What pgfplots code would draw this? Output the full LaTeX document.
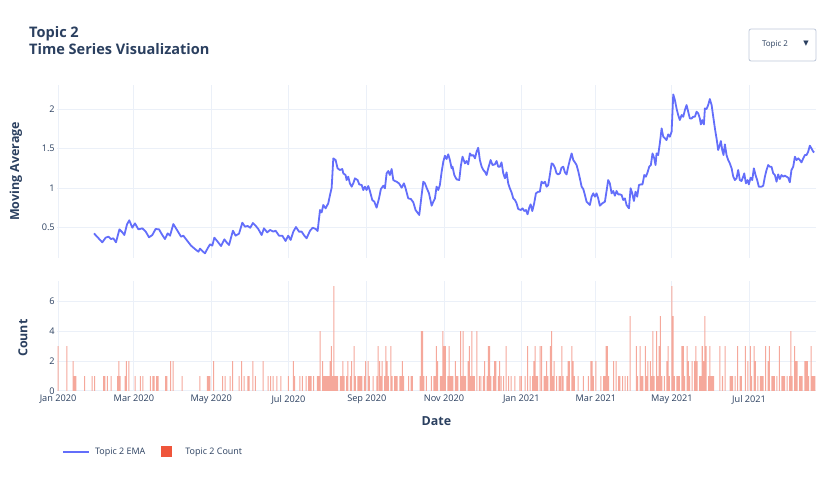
\documentclass[border=0pt]{standalone}
\usepackage{pgfplots}
\pgfplotsset{compat=1.18}
\usepackage{pgfplotstable}
\usepackage{fontspec}
\setmainfont{Open Sans}
\newfontfamily\symfont{DejaVu Sans}
\definecolor{linec}{HTML}{636EFA}
\definecolor{barc}{HTML}{EF553B}
\definecolor{barlight}{HTML}{F5A89B}
\definecolor{textc}{HTML}{2A3F5F}
\definecolor{gridc}{HTML}{EBF0F8}
\definecolor{ddc}{HTML}{BEC8D9}

\pgfplotstableread{
d v
28.4 0.423
35.0 0.309
37.6 0.368
39.8 0.381
41.9 0.351
43.7 0.360
45.8 0.309
48.5 0.474
50.8 0.436
52.4 0.402
54.5 0.538
56.3 0.589
58.7 0.495
60.8 0.550
63.5 0.474
66.6 0.487
69.3 0.445
71.9 0.373
74.5 0.402
77.1 0.479
79.8 0.474
82.4 0.402
84.5 0.351
86.6 0.423
88.5 0.394
91.1 0.542
93.7 0.474
97.2 0.381
99.0 0.394
101.6 0.339
105.1 0.267
108.2 0.224
110.9 0.190
112.2 0.229
114.0 0.199
116.1 0.169
118.2 0.233
120.1 0.284
121.9 0.267
123.5 0.368
126.1 0.318
128.8 0.262
131.4 0.347
133.2 0.309
135.1 0.275
138.2 0.457
140.3 0.394
143.0 0.419
145.6 0.559
147.7 0.508
149.8 0.517
151.9 0.495
154.0 0.555
156.1 0.521
158.2 0.479
160.9 0.402
162.7 0.487
165.3 0.436
167.5 0.466
170.1 0.445
171.9 0.457
174.6 0.394
177.2 0.394
179.8 0.326
181.9 0.394
183.8 0.339
185.9 0.445
188.0 0.504
190.4 0.445
192.5 0.445
194.6 0.394
196.4 0.360
199.1 0.457
201.2 0.495
203.6 0.479
205.1 0.453
207.0 0.720
208.3 0.690
209.6 0.784
211.4 0.741
213.5 0.805
214.9 0.911
216.2 1.004
217.5 1.377
219.3 1.356
220.9 1.250
222.7 1.229
224.6 1.241
225.4 1.186
227.2 1.165
228.0 1.101
229.3 1.144
230.6 1.059
232.0 1.017
233.3 1.059
234.6 1.123
236.7 1.101
238.0 1.046
239.9 1.038
241.2 0.974
242.5 1.017
243.8 0.974
245.1 1.025
246.4 0.962
248.3 0.847
249.9 0.826
251.7 0.750
253.6 0.868
255.1 0.987
257.0 1.029
258.3 0.996
259.6 1.186
260.9 1.216
262.2 1.165
263.6 1.241
264.9 1.101
266.2 1.089
267.5 1.080
269.4 1.059
271.5 1.004
273.3 1.059
274.6 0.996
276.7 0.868
278.8 0.860
280.7 0.818
282.5 0.720
285.4 0.657
287.3 0.911
288.6 1.080
289.9 1.059
291.2 1.004
293.1 0.932
295.2 0.775
296.5 0.826
297.8 0.868
299.1 1.017
300.4 0.974
301.7 1.038
303.1 1.207
304.4 1.334
305.7 1.411
307.0 1.368
308.3 1.428
309.6 1.356
311.0 1.250
311.7 1.271
313.1 1.165
314.9 1.110
317.0 1.101
318.3 1.284
319.6 1.398
321.5 1.313
322.8 1.343
324.1 1.301
325.4 1.440
326.8 1.411
328.1 1.419
329.4 1.377
330.7 1.462
332.0 1.512
333.3 1.356
334.7 1.271
336.0 1.229
337.3 1.207
338.6 1.165
339.9 1.250
341.8 1.356
343.3 1.292
345.2 1.301
346.5 1.343
347.8 1.271
349.1 1.271
350.4 1.326
351.8 1.186
353.1 1.123
354.4 1.199
355.7 1.059
357.0 0.996
358.3 0.945
359.7 0.868
361.0 0.847
362.3 0.805
363.6 0.733
365.7 0.720
367.0 0.741
368.4 0.707
369.7 0.720
371.0 0.665
372.3 0.750
373.4 0.792
374.7 0.707
376.2 0.805
377.6 0.932
379.4 0.953
380.7 0.953
382.0 1.080
383.4 1.059
384.7 1.080
386.0 1.017
387.3 1.038
388.6 1.165
390.0 1.313
391.3 1.301
392.6 1.258
393.9 1.186
395.2 1.173
396.5 1.186
397.8 1.258
399.2 1.271
400.5 1.199
401.8 1.173
403.1 1.271
404.4 1.356
405.8 1.440
407.1 1.356
408.4 1.326
409.7 1.292
411.0 1.216
412.3 1.123
413.7 1.017
415.0 0.987
416.3 0.911
417.6 0.826
418.9 0.805
420.2 0.784
421.6 0.890
422.9 0.932
424.2 0.890
425.5 0.932
426.8 0.868
428.1 0.775
430.0 0.805
432.1 0.826
433.4 0.962
434.7 1.101
436.0 1.059
437.4 0.932
438.7 0.962
440.0 0.902
441.3 0.962
442.6 0.919
443.9 0.919
445.3 0.911
446.6 0.847
447.9 0.868
449.2 0.784
451.1 0.741
452.4 0.996
453.7 0.932
455.0 0.835
456.3 0.953
457.6 0.890
459.0 1.038
460.5 1.046
461.8 1.046
463.2 1.165
464.5 1.144
465.8 1.199
467.1 1.271
468.4 1.292
469.7 1.440
471.1 1.377
472.1 1.292
472.9 1.440
474.2 1.419
475.5 1.568
476.9 1.758
478.2 1.652
479.5 1.631
480.8 1.610
482.1 1.682
483.4 1.652
484.8 1.716
486.1 2.190
487.4 2.118
488.7 2.012
490.0 1.928
491.3 1.864
492.7 1.928
494.0 1.906
495.3 1.991
496.6 2.055
497.9 1.970
499.2 1.885
500.6 1.885
501.9 1.906
503.2 1.906
504.5 1.970
505.8 1.949
507.1 1.885
507.9 1.809
509.0 1.864
510.3 1.809
511.1 2.012
512.4 2.004
513.7 2.055
515.0 2.131
516.4 2.055
517.7 1.906
519.0 1.758
520.3 1.631
521.6 1.483
522.9 1.546
523.7 1.597
524.8 1.483
525.8 1.419
526.9 1.555
528.2 1.419
529.5 1.356
530.8 1.313
532.2 1.250
533.5 1.144
534.8 1.101
536.1 1.123
537.4 1.229
538.7 1.101
540.0 1.089
541.4 1.144
542.2 1.186
543.5 1.059
544.8 1.101
545.8 1.046
547.2 1.131
548.5 1.101
549.8 1.250
551.1 1.165
552.4 1.101
553.7 1.017
555.8 1.017
557.2 1.029
558.5 1.144
559.8 1.229
561.1 1.292
562.4 1.271
563.7 1.271
565.1 1.186
566.4 1.165
567.7 1.080
569.0 1.173
570.3 1.114
571.6 1.165
573.0 1.144
574.3 1.157
575.6 1.144
576.9 1.131
578.2 1.072
579.5 1.229
580.9 1.271
582.2 1.398
583.5 1.356
584.8 1.377
586.1 1.356
587.4 1.326
588.8 1.377
590.1 1.419
591.4 1.419
592.7 1.462
594.0 1.538
595.3 1.504
596.7 1.462
597.5 1.453
}\emadata

\pgfplotstableread{
d c
0 3
7 3
12 2
13 1
14 1
21 1
27 1
29 1
36 1
37 1
39 1
42 1
47 1
48 2
49 1
53 1
54 2
56 2
61 1
65 1
67 1
73 1
75 1
76 1
78 1
79 1
85 1
86 1
89 2
91 2
98 1
112 1
118 1
119 1
120 1
123 2
130 1
132 1
136 1
138 2
143 1
145 2
147 1
150 1
151 1
154 2
156 1
162 2
166 1
168 1
170 1
173 1
176 1
182 1
186 2
187 1
191 1
193 1
196 1
198 1
199 1
200 1
202 1
205 1
206 1
207 4
209 2
210 1
211 1
212 1
213 1
214 1
215 2
216 3
217 1
218 7
219 1
220 1
221 1
223 1
224 1
225 2
226 1
228 1
229 2
231 1
232 2
234 3
235 1
237 1
238 1
239 1
240 1
242 1
243 2
245 2
246 1
249 1
252 1
253 3
254 2
255 1
256 2
258 1
259 3
260 2
261 1
263 3
264 1
266 1
267 1
268 1
270 1
271 1
272 2
273 1
277 1
279 1
280 1
286 1
287 4
288 4
289 1
291 1
295 1
297 1
298 1
299 3
300 2
302 1
303 1
304 4
305 3
306 3
308 1
309 3
310 1
311 1
312 1
314 2
315 1
316 1
318 4
319 1
320 4
321 1
322 1
324 2
325 3
326 1
327 4
328 1
329 1
331 4
333 1
334 1
336 1
337 2
339 1
340 3
341 3
342 1
344 1
345 2
346 2
348 1
349 2
350 1
352 1
354 3
356 1
358 1
361 1
365 1
366 1
369 1
371 3
373 1
375 1
376 2
377 3
378 1
379 1
381 3
382 3
384 1
385 1
386 2
387 1
389 3
390 4
391 1
392 2
394 1
396 1
397 1
398 3
399 1
402 1
403 2
404 2
406 3
407 2
408 1
411 1
415 1
419 1
421 2
422 2
423 1
425 2
429 1
431 1
432 1
433 3
434 3
435 1
439 2
441 2
443 1
444 1
446 1
448 1
450 1
452 5
457 3
458 1
460 3
461 1
462 1
464 3
465 1
466 2
468 2
469 1
470 4
471 1
473 4
474 1
475 3
476 5
477 1
479 1
481 2
482 3
483 1
485 7
486 5
487 1
489 1
490 1
491 1
493 3
494 3
495 1
497 3
498 2
499 1
501 2
503 2
504 3
505 2
507 1
508 1
509 3
510 2
511 5
512 3
514 1
515 3
516 1
517 1
518 1
523 3
525 1
527 3
531 1
532 1
533 1
535 1
537 3
539 1
540 1
543 3
545 2
547 3
548 1
550 3
551 2
553 1
555 1
556 1
557 1
559 3
561 2
562 3
564 1
565 1
566 1
568 1
570 3
572 1
573 1
574 1
576 1
578 1
579 4
580 1
582 3
583 2
584 2
586 1
587 1
588 1
590 2
591 2
592 2
593 1
595 3
596 1
597 1
598 1
}\countdata

\begin{document}
\begin{tikzpicture}[x=1bp,y=1bp]
\path[use as bounding box] (0,0) rectangle (831,483);
\pgfplotsset{
  common/.style={
    scale only axis, width=758.1bp, anchor=south west,
    xmin=-0.5, xmax=598.5,
    xtick={0,60,121,182,244,305,366,425,485,546},
    axis line style={draw=none},
    major tick length=0pt,
    grid=major, grid style={color=gridc, line width=1bp},
    tick label style={font=\fontsize{9.2}{11}\selectfont, text=textc},
    yticklabel style={anchor=east, inner sep=0pt, xshift=-2.5bp},
    xticklabel style={anchor=north, inner sep=0pt, yshift=-4bp},
    /pgf/number format/assume math mode=true,
  }
}
\begin{axis}[common, at={(57.4bp,225bp)}, height=173bp,
  ymin=0.11, ymax=2.31,
  ytick={0.5,1,1.5,2}, yticklabels={0.5,1,1.5,2},
  xticklabels={{},{},{},{},{},{},{},{},{},{}},
  ylabel={Moving Average},
  every axis y label/.style={at={(axis description cs:-0.0546,0.5)}, rotate=90, anchor=center,
    font=\bfseries\fontsize{12.5}{14}\selectfont, text=textc}]
\addplot[color=linec, line width=1.8bp, line join=round] table[x=d,y=v]{\emadata};
\end{axis}
\begin{axis}[common, at={(57.4bp,92bp)}, height=110bp,
  ymin=0, ymax=7.35,
  ytick={0,2,4,6}, yticklabels={0,2,4,6},
  xticklabels={Jan 2020,Mar 2020,May 2020,Jul 2020,Sep 2020,Nov 2020,Jan 2021,Mar 2021,May 2021,Jul 2021},
  ylabel={Count}, xlabel={Date},
  every axis y label/.style={at={(axis description cs:-0.0454,0.48)}, rotate=90, anchor=center,
    font=\bfseries\fontsize{12.5}{14}\selectfont, text=textc},
  every axis x label/.style={at={(axis description cs:0.5,-0.2727)}, anchor=center,
    font=\bfseries\fontsize{12.5}{14}\selectfont, text=textc},
  legend style={at={(axis description cs:0.0061,-0.5545)}, anchor=west, draw=none, fill=none,
    inner sep=0pt, font=\fontsize{9}{11}\selectfont, text=textc,
    nodes={inner sep=0pt, anchor=west},
    /tikz/every odd column/.append style={column sep=5bp},
    /tikz/every even column/.append style={column sep=10bp}},
  legend columns=-1]
\addlegendimage{draw=none, legend image code/.code={\draw[line width=1.8bp, draw=linec] (0bp,0bp) -- (26bp,0bp);}}
\addlegendentry{Topic 2 EMA}
\addplot[forget plot, ybar, bar width=0.8, fill=barlight, draw=none] table[x=d,y=c]{\countdata};
\addlegendimage{draw=none, legend image code/.code={\path[draw=none] (0bp,0bp) -- (25bp,0bp); \fill[fill=barc, draw=none] (6bp,-5.5bp) rectangle (17bp,5.5bp);}}
\addlegendentry{Topic 2 Count}
\end{axis}
\node[anchor=base west, inner sep=0pt, font=\bfseries\fontsize{14.6}{17}\selectfont, text=textc] at (29,445) {Topic 2};
\node[anchor=base west, inner sep=0pt, font=\bfseries\fontsize{14.6}{17}\selectfont, text=textc] at (29,428) {Time Series Visualization};
\draw[draw=ddc, fill=white, rounded corners=2bp, line width=0.8bp] (749,422) rectangle (816,454);
\node[font=\fontsize{8}{10}\selectfont, text=textc, inner sep=0pt] at (775,438) {Topic 2};
\node[font=\symfont\fontsize{7}{8}\selectfont, text=textc, inner sep=0pt] at (806,439) {▼};
\end{tikzpicture}
\end{document}
